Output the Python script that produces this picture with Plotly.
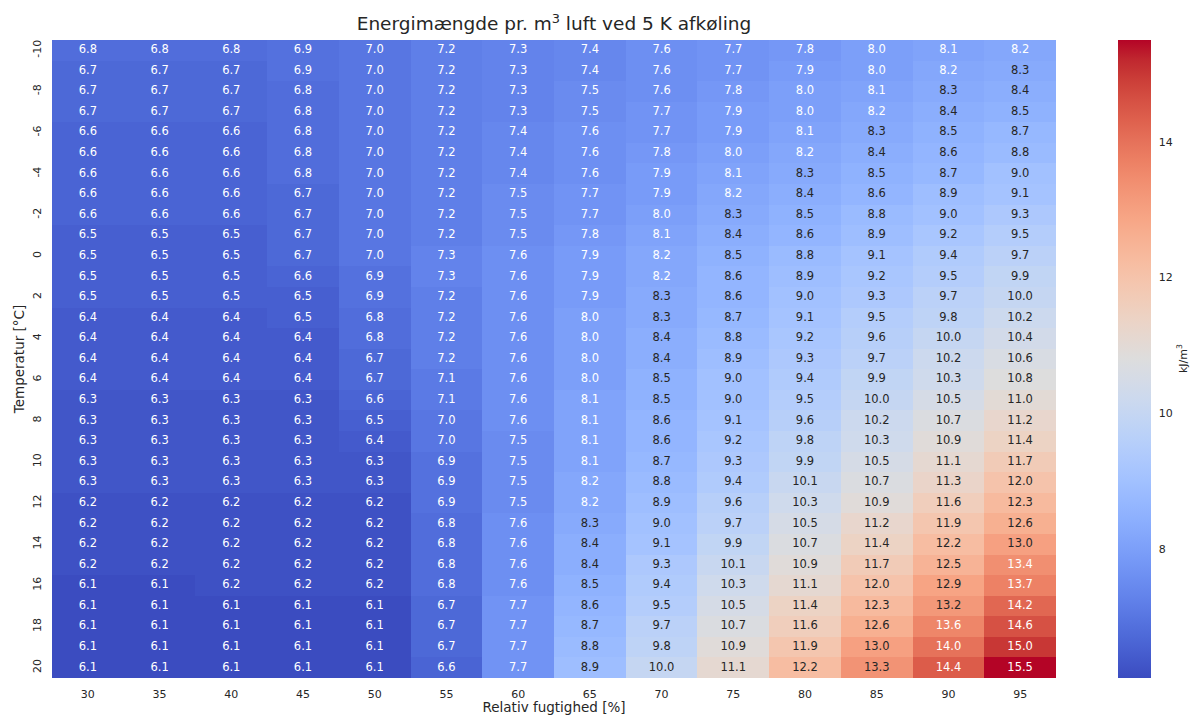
import numpy as np
import plotly.graph_objects as go

humidity = [30, 35, 40, 45, 50, 55, 60, 65, 70, 75, 80, 85, 90, 95]
temperature = list(range(-10, 21))
temp_ticks = list(range(-10, 21, 2))

values = [
    [6.8, 6.8, 6.8, 6.9, 7.0, 7.2, 7.3, 7.4, 7.6, 7.7, 7.8, 8.0, 8.1, 8.2],
    [6.7, 6.7, 6.7, 6.9, 7.0, 7.2, 7.3, 7.4, 7.6, 7.7, 7.9, 8.0, 8.2, 8.3],
    [6.7, 6.7, 6.7, 6.8, 7.0, 7.2, 7.3, 7.5, 7.6, 7.8, 8.0, 8.1, 8.3, 8.4],
    [6.7, 6.7, 6.7, 6.8, 7.0, 7.2, 7.3, 7.5, 7.7, 7.9, 8.0, 8.2, 8.4, 8.5],
    [6.6, 6.6, 6.6, 6.8, 7.0, 7.2, 7.4, 7.6, 7.7, 7.9, 8.1, 8.3, 8.5, 8.7],
    [6.6, 6.6, 6.6, 6.8, 7.0, 7.2, 7.4, 7.6, 7.8, 8.0, 8.2, 8.4, 8.6, 8.8],
    [6.6, 6.6, 6.6, 6.8, 7.0, 7.2, 7.4, 7.6, 7.9, 8.1, 8.3, 8.5, 8.7, 9.0],
    [6.6, 6.6, 6.6, 6.7, 7.0, 7.2, 7.5, 7.7, 7.9, 8.2, 8.4, 8.6, 8.9, 9.1],
    [6.6, 6.6, 6.6, 6.7, 7.0, 7.2, 7.5, 7.7, 8.0, 8.3, 8.5, 8.8, 9.0, 9.3],
    [6.5, 6.5, 6.5, 6.7, 7.0, 7.2, 7.5, 7.8, 8.1, 8.4, 8.6, 8.9, 9.2, 9.5],
    [6.5, 6.5, 6.5, 6.7, 7.0, 7.3, 7.6, 7.9, 8.2, 8.5, 8.8, 9.1, 9.4, 9.7],
    [6.5, 6.5, 6.5, 6.6, 6.9, 7.3, 7.6, 7.9, 8.2, 8.6, 8.9, 9.2, 9.5, 9.9],
    [6.5, 6.5, 6.5, 6.5, 6.9, 7.2, 7.6, 7.9, 8.3, 8.6, 9.0, 9.3, 9.7, 10.0],
    [6.4, 6.4, 6.4, 6.5, 6.8, 7.2, 7.6, 8.0, 8.3, 8.7, 9.1, 9.5, 9.8, 10.2],
    [6.4, 6.4, 6.4, 6.4, 6.8, 7.2, 7.6, 8.0, 8.4, 8.8, 9.2, 9.6, 10.0, 10.4],
    [6.4, 6.4, 6.4, 6.4, 6.7, 7.2, 7.6, 8.0, 8.4, 8.9, 9.3, 9.7, 10.2, 10.6],
    [6.4, 6.4, 6.4, 6.4, 6.7, 7.1, 7.6, 8.0, 8.5, 9.0, 9.4, 9.9, 10.3, 10.8],
    [6.3, 6.3, 6.3, 6.3, 6.6, 7.1, 7.6, 8.1, 8.5, 9.0, 9.5, 10.0, 10.5, 11.0],
    [6.3, 6.3, 6.3, 6.3, 6.5, 7.0, 7.6, 8.1, 8.6, 9.1, 9.6, 10.2, 10.7, 11.2],
    [6.3, 6.3, 6.3, 6.3, 6.4, 7.0, 7.5, 8.1, 8.6, 9.2, 9.8, 10.3, 10.9, 11.4],
    [6.3, 6.3, 6.3, 6.3, 6.3, 6.9, 7.5, 8.1, 8.7, 9.3, 9.9, 10.5, 11.1, 11.7],
    [6.3, 6.3, 6.3, 6.3, 6.3, 6.9, 7.5, 8.2, 8.8, 9.4, 10.1, 10.7, 11.3, 12.0],
    [6.2, 6.2, 6.2, 6.2, 6.2, 6.9, 7.5, 8.2, 8.9, 9.6, 10.3, 10.9, 11.6, 12.3],
    [6.2, 6.2, 6.2, 6.2, 6.2, 6.8, 7.6, 8.3, 9.0, 9.7, 10.5, 11.2, 11.9, 12.6],
    [6.2, 6.2, 6.2, 6.2, 6.2, 6.8, 7.6, 8.4, 9.1, 9.9, 10.7, 11.4, 12.2, 13.0],
    [6.2, 6.2, 6.2, 6.2, 6.2, 6.8, 7.6, 8.4, 9.3, 10.1, 10.9, 11.7, 12.5, 13.4],
    [6.1, 6.1, 6.2, 6.2, 6.2, 6.8, 7.6, 8.5, 9.4, 10.3, 11.1, 12.0, 12.9, 13.7],
    [6.1, 6.1, 6.1, 6.1, 6.1, 6.7, 7.7, 8.6, 9.5, 10.5, 11.4, 12.3, 13.2, 14.2],
    [6.1, 6.1, 6.1, 6.1, 6.1, 6.7, 7.7, 8.7, 9.7, 10.7, 11.6, 12.6, 13.6, 14.6],
    [6.1, 6.1, 6.1, 6.1, 6.1, 6.7, 7.7, 8.8, 9.8, 10.9, 11.9, 13.0, 14.0, 15.0],
    [6.1, 6.1, 6.1, 6.1, 6.1, 6.6, 7.7, 8.9, 10.0, 11.1, 12.2, 13.3, 14.4, 15.5],
]

# matplotlib "coolwarm" anchors
COOLWARM = [
    (59, 76, 192), (68, 90, 204), (77, 104, 215), (87, 117, 225), (98, 130, 234),
    (108, 142, 241), (119, 154, 247), (130, 165, 251), (141, 176, 254), (152, 185, 255),
    (163, 194, 255), (174, 201, 253), (184, 208, 249), (194, 213, 244), (204, 217, 238),
    (213, 219, 230), (221, 221, 221), (229, 216, 209), (236, 211, 197), (241, 204, 184),
    (245, 196, 172), (247, 187, 159), (247, 177, 147), (247, 166, 134), (244, 154, 123),
    (241, 141, 111), (236, 127, 99), (229, 112, 89), (222, 96, 77), (213, 80, 67),
    (203, 62, 56), (192, 40, 47), (180, 4, 38),
]
n = len(COOLWARM) - 1
colorscale = [[i / n, "rgb(%d,%d,%d)" % c] for i, c in enumerate(COOLWARM)]
anchors = np.array(COOLWARM, dtype=float)
pos = np.linspace(0, 1, n + 1)

z = np.array(values)
zmin, zmax = z.min(), z.max()


def color_at(v):
    t = (v - zmin) / (zmax - zmin)
    return np.array([np.interp(t, pos, anchors[:, k]) for k in range(3)]) / 255.0


def text_color(v):
    rgb = color_at(v)
    rgb = np.where(rgb <= 0.03928, rgb / 12.92, ((rgb + 0.055) / 1.055) ** 2.4)
    lum = rgb.dot([0.2126, 0.7152, 0.0722])
    return "#262626" if lum > 0.408 else "white"


FONT = "DejaVu Sans"

fig = go.Figure()
fig.add_trace(go.Heatmap(
    x=humidity, y=temperature, z=z,
    zmin=zmin, zmax=zmax, colorscale=colorscale,
    hoverinfo="skip",
    colorbar=dict(
        x=(1118 - 52) / 1004, xanchor="left", xpad=0,
        y=0.5, yanchor="middle", ypad=0, len=1, lenmode="fraction",
        thickness=33, thicknessmode="pixels", outlinewidth=0,
        tickvals=[8, 10, 12, 14], ticks="outside", ticklen=6, tickcolor="white",
        tickfont=dict(family=FONT, size=11, color="#262626"),
    ),
))

xs, ys, txt, cols = [], [], [], []
for i, t in enumerate(temperature):
    for j, h in enumerate(humidity):
        v = values[i][j]
        xs.append(h)
        ys.append(t)
        txt.append(f"{v:.1f}")
        cols.append(text_color(v))

fig.add_trace(go.Scatter(
    x=xs, y=ys, text=txt, mode="text",
    textfont=dict(family=FONT, size=11.5, color=cols),
    hoverinfo="skip", showlegend=False,
))

fig.update_layout(
    width=1192, height=715,
    margin=dict(l=52, r=136, t=40, b=37),
    paper_bgcolor="white", plot_bgcolor="white",
    font=dict(family=FONT, color="#262626"),
    title=dict(
        text="Energimængde pr. m<sup>3</sup> luft ved 5 K afkøling",
        x=0.5, xref="paper", xanchor="center",
        y=1 - 24 / 715, yref="container", yanchor="middle",
        font=dict(family=FONT, size=18.5, color="#262626"),
    ),
    xaxis=dict(
        range=[27.5, 97.5], tickvals=humidity, ticktext=[str(h) for h in humidity],
        ticks="outside", ticklen=6, tickcolor="white", showgrid=False, zeroline=False,
        tickfont=dict(family=FONT, size=11, color="#262626"),
        title=dict(text="Relativ fugtighed [%]", standoff=4,
                   font=dict(family=FONT, size=13.5, color="#262626")),
        automargin=False,
    ),
    yaxis=dict(
        range=[20.5, -10.5], tickvals=temp_ticks, ticktext=[str(t) for t in temp_ticks],
        tickangle=-90, ticks="outside", ticklen=6, tickcolor="white",
        showgrid=False, zeroline=False,
        tickfont=dict(family=FONT, size=11, color="#262626"),
        title=dict(text="Temperatur [°C]", standoff=2,
                   font=dict(family=FONT, size=13.5, color="#262626")),
        automargin=False,
    ),
    annotations=[dict(
        text="kJ/m<sup>3</sup>", textangle=-90,
        x=(1182 - 52) / 1004, xref="paper", xanchor="center",
        y=0.5, yref="paper", yanchor="middle", showarrow=False,
        font=dict(family=FONT, size=11, color="#262626"),
    )],
)

fig.write_html(
    "out.html",
    config={"displayModeBar": False},
    post_script="document.body.style.margin='0';document.body.style.overflow='hidden';",
)
